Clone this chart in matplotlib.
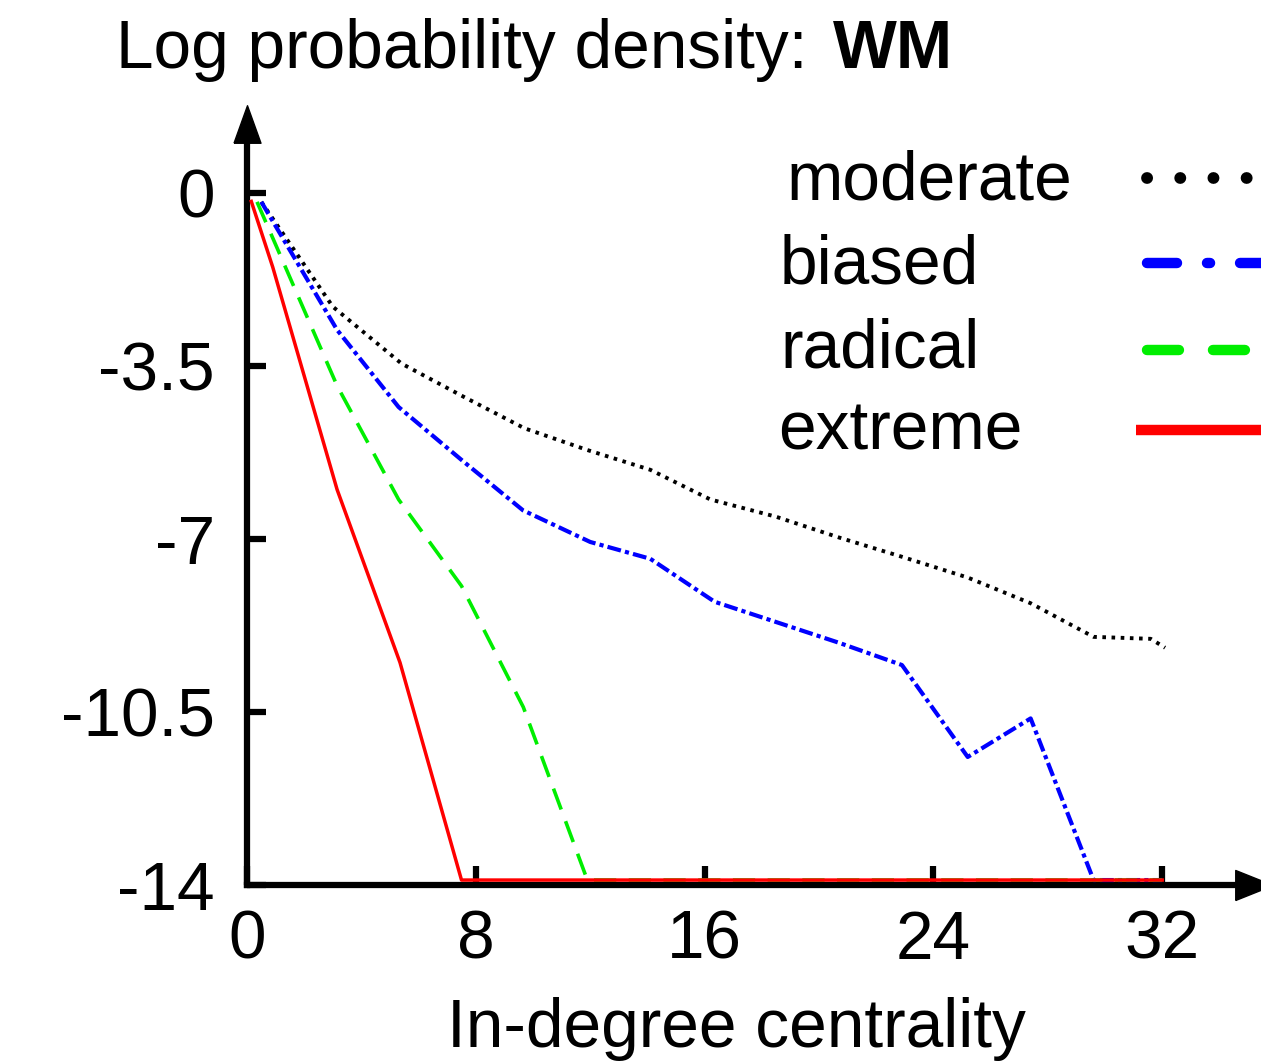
import numpy as np
import matplotlib
matplotlib.use("Agg")
import matplotlib.pyplot as plt
from matplotlib.lines import Line2D

plt.rcParams['font.family'] = ['Liberation Sans', 'DejaVu Sans']
plt.rcParams['axes.unicode_minus'] = False
plt.rcParams['lines.scale_dashes'] = False

# data
moderate_x = [0.5, 3.0, 5.4, 7.5, 9.7, 11.9, 14.1, 16.2, 18.5, 20.7, 22.9, 25.2, 27.4, 29.6, 31.6, 32.1]
moderate_y = [-0.18, -2.3, -3.45, -4.1, -4.76, -5.2, -5.6, -6.2, -6.55, -6.97, -7.36, -7.78, -8.3, -8.98, -9.02, -9.2]

biased_x = [0.5, 3.15, 5.3, 7.5, 9.65, 12.0, 14.1, 16.35, 18.5, 20.7, 22.9, 25.2, 27.4, 29.6, 32.0]
biased_y = [-0.18, -2.77, -4.33, -5.4, -6.42, -7.06, -7.4, -8.27, -8.68, -9.1, -9.55, -11.41, -10.63, -13.9, -13.9]

radical_x = [0.35, 3.15, 5.3, 7.5, 9.66, 11.9, 32.0]
radical_y = [-0.18, -3.9, -6.2, -7.95, -10.4, -13.9, -13.9]

extreme_x = [0.15, 0.9, 3.15, 5.35, 7.5, 32.0]
extreme_y = [-0.17, -1.5, -6.0, -9.5, -13.9, -13.9]

labels = ['moderate', 'biased', 'radical', 'extreme']
xticks = [0, 8, 16, 24, 32]
xticklabels = ['0', '8', '16', '24', '32']
yticks = [0, -3.5, -7, -10.5, -14]
yticklabels = ['0', '-3.5', '-7', '-10.5', '-14']

W, H = 1261, 1063
FS = 48.7
fig = plt.figure(figsize=(W / 100, H / 100), dpi=100)
ax = fig.add_axes([247 / W, 1 - 885 / H, 1 - 247 / W, (885 - 105) / H])
ax.set_xlim(0, (W - 247) / 28.6)
ax.set_ylim(-14, -14 + 780 / 49.43)

# series
ax.plot(moderate_x, moderate_y, color='black', lw=2.8, dashes=(2.6, 4.0), zorder=3)
ax.plot(biased_x, biased_y, color='#0000ff', lw=3.0, dashes=(10, 3, 3, 3), zorder=3)
ax.plot(radical_x, radical_y, color='#00ee00', lw=2.6, dashes=(16, 9), zorder=3)
ax.plot(extreme_x, extreme_y, color='#ff0000', lw=2.5, zorder=4)

# axes with arrows
for s in ['top', 'right']:
    ax.spines[s].set_visible(False)
for s in ['left', 'bottom']:
    ax.spines[s].set_linewidth(4.5)
    ax.spines[s].set_capstyle('projecting')
ax.spines['left'].set_bounds(-14, 1.45)
ax.spines['bottom'].set_bounds(0, 35.2)
up = [(-0.36, -0.5), (0.36, -0.5), (0, 0.5), (-0.36, -0.5)]
right = [(-0.5, -0.4), (-0.5, 0.4), (0.5, 0), (-0.5, -0.4)]
ax.plot([0], [1.4], marker=up, ms=27, color='black', clip_on=False, zorder=5)
ax.plot([35.2], [-14], marker=right, ms=27, color='black', clip_on=False, zorder=5)

ax.set_xticks(xticks, xticklabels)
ax.set_yticks(yticks, yticklabels)
ax.tick_params(axis='both', direction='in', length=14, width=4.5, labelsize=FS)
ax.tick_params(axis='y', pad=23)
ax.tick_params(axis='x', pad=17)

# title and x label
t1 = fig.text(116 / W, 1 - 68 / H, 'Log probability density:', fontsize=FS, va='baseline', ha='left')
fig.canvas.draw()
bb = t1.get_window_extent()
fig.text((bb.x1 + 25) / W, 1 - 68 / H, 'WM', fontsize=FS, fontweight='bold', va='baseline', ha='left')
fig.text(736 / W, 1 - 1047 / H, 'In-degree centrality', fontsize=FS, va='baseline', ha='center')

# legend, drawn as a two column table
leg_text_x = [786, 780, 780, 778]
leg_base_y = [200, 283, 368, 450]
leg_line_y = [178, 263, 350, 430]
leg_styles = [
    dict(color='black', lw=8.5, dashes=(0.1, 23.8), dash_capstyle='round'),
    dict(color='#0000ff', lw=7.5, dashes=(21.6, 21.6, 2.2, 21.6), dash_capstyle='round'),
    dict(color='#00ee00', lw=7.5, dashes=(23, 24.5), dash_capstyle='round'),
    dict(color='#ff0000', lw=7.5, solid_capstyle='butt'),
]
for lab, tx, by, ly, st in zip(labels, leg_text_x, leg_base_y, leg_line_y, leg_styles):
    fig.text(tx / W, 1 - by / H, lab, fontsize=FS, va='baseline', ha='left')
    x0 = 1147 if lab != 'extreme' else 1136
    fig.add_artist(Line2D([x0 / W, 1.05], [1 - ly / H, 1 - ly / H], transform=fig.transFigure, **st))

fig.savefig('out.png', dpi=100)
